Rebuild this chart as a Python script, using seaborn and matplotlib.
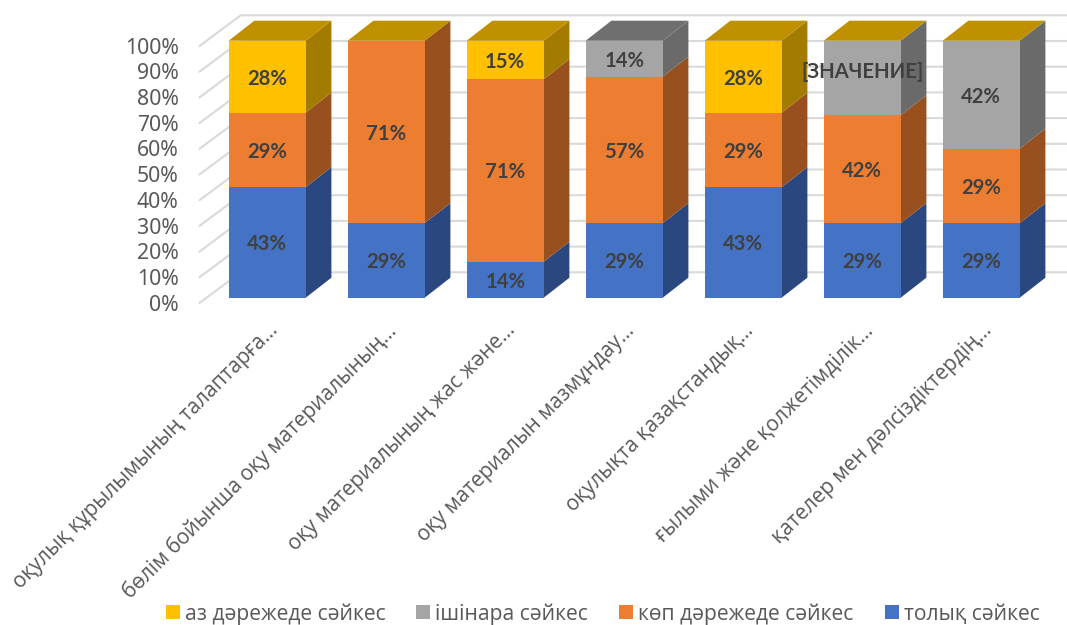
import matplotlib
matplotlib.use("Agg")
import matplotlib.pyplot as plt
from matplotlib.patches import Polygon, Patch
from matplotlib.transforms import ScaledTranslation
import seaborn as sns
import numpy as np

categories = ["оқулық құрылымының талаптарға…", "бөлім бойынша оқу материалының…",
              "оқу материалының жас және…", "оқу материалын мазмұндау…",
              "оқулықта қазақстандық…", "ғылыми және қолжетімділік…",
              "қателер мен дәлсіздіктердің…"]
tolyq = [43, 29, 14, 29, 43, 29, 29]
kop = [29, 71, 71, 57, 29, 42, 29]
ishinara = [0, 0, 0, 14, 0, 29, 42]
az = [28, 0, 15, 0, 28, 0, 0]
names = ["толық сәйкес", "көп дәрежеде сәйкес", "ішінара сәйкес", "аз дәрежеде сәйкес"]
yticks = list(range(0, 101, 10))
placeholder_label = "[ЗНАЧЕНИЕ]"

front = ["#4472C4", "#ED7D31", "#A5A5A5", "#FFC000"]
side = ["#2A4780", "#97501E", "#6A6A6A", "#A37B00"]
top_gold, top_gray = "#BF9000", "#6F6F6F"

sns.set_theme(style="white")
plt.rcParams["font.family"] = ["Noto Sans", "DejaVu Sans"]
W, H = 1067, 625
fig = plt.figure(figsize=(W / 100, H / 100), dpi=100)

# pixel geometry of the plot
x0, pitch = 267.2, 119.0
y0, ppu = 297.7, 2.57
ax_left, ax_top = 199.5, 14.0
ax = fig.add_axes([ax_left / W, 1 - y0 / H, (W - ax_left) / W, (y0 - ax_top) / H])
ax.patch.set_alpha(0)

dx, dy = 25.7 / pitch, 20.0 / ppu
xl, xr = (ax_left - x0) / pitch, (W - x0) / pitch
xb = (240.7 - x0) / pitch
back, fr = 25.4 / ppu, -5.3 / ppu
grid = "#D9D9D9"
for v in yticks:
    ax.plot([xl, xb, xr], [v + fr, v + back, v + back], color=grid, lw=1.5,
            clip_on=False, zorder=0, solid_joinstyle="miter")

bottom = np.zeros(len(categories))
series = [tolyq, kop, ishinara, az]
for k, vals in enumerate(series):
    sns.barplot(x=categories, y=vals, bottom=bottom, color=front[k], saturation=1,
                width=77 / pitch, ax=ax, zorder=3, linewidth=0, legend=False)
    bars = ax.containers[-1]
    for i, b in enumerate(bars):
        h = b.get_height()
        if h <= 0:
            continue
        xa, w, ya = b.get_x(), b.get_width(), b.get_y()
        xe = xa + w
        ax.add_patch(Polygon([(xe, ya), (xe + dx, ya + dy), (xe + dx, ya + h + dy), (xe, ya + h)],
                             closed=True, fc=side[k], ec="none", zorder=2.5, clip_on=False))
        if ya + h >= 99.5:
            tc = top_gray if i == 3 else top_gold
            ax.add_patch(Polygon([(xa, ya + h), (xa + dx, ya + h + dy), (xe + dx, ya + h + dy), (xe, ya + h)],
                                 closed=True, fc=tc, ec="none", zorder=2.5, clip_on=False))
        text, yy = f"{vals[i]}%", ya + h / 2
        if k == 2 and i == 5:
            text, yy = placeholder_label, ya + h / 2 + 3.2
        ax.text(i, yy, text, ha="center", va="center_baseline", fontsize=14.6,
                fontweight="bold", color="#404040", zorder=6, clip_on=False,
                family=["Lato", "Open Sans", "DejaVu Sans"])
    bottom = bottom + np.array(vals)

ax.set_xlim(xl, xr)
ax.set_ylim(0, (y0 - ax_top) / ppu)
ax.set_yticks(yticks, [f"{v}%" for v in yticks])
ax.set_xticks(range(len(categories)), categories)
for s in ax.spines.values():
    s.set_visible(False)
ax.tick_params(axis="y", length=0, pad=15, labelsize=15.3, labelcolor="#595959")
ax.tick_params(axis="x", length=0, pad=16, labelsize=15, labelcolor="#595959")
off = ScaledTranslation(0, -5.0 / 100, fig.dpi_scale_trans)
for t in ax.get_yticklabels():
    t.set_transform(t.get_transform() + off)
for t in ax.get_xticklabels():
    t.set_rotation(45)
    t.set_ha("right")
    t.set_va("top")
    t.set_rotation_mode("anchor")
    t.set_family(["Open Sans", "DejaVu Sans"])

order = [3, 2, 1, 0]
handles = [Patch(fc=front[k], ec="none", label=names[k]) for k in order]
fs = 15.2
fig.legend(handles=handles, loc="center", bbox_to_anchor=(602.5 / W, 1 - 614 / H), ncol=4, frameon=False,
           labelcolor="#595959", handlelength=14 / (fs * 100 / 72),
           handleheight=14 / (fs * 100 / 72), handletextpad=0.24, columnspacing=1.47, borderpad=0,
           prop={"family": ["Open Sans", "DejaVu Sans"], "size": fs})
fig.savefig("out.png", dpi=100)
